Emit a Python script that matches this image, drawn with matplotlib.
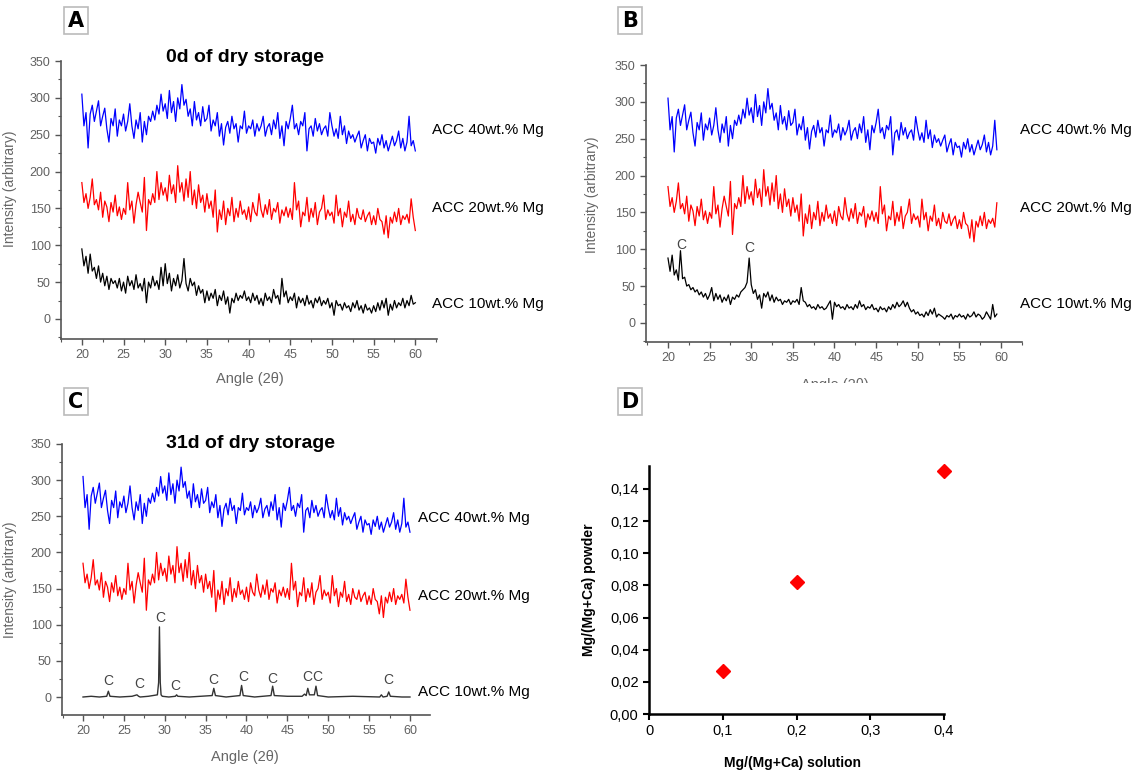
import numpy as np
import matplotlib
matplotlib.use("Agg")
import matplotlib.pyplot as plt
from matplotlib.ticker import MultipleLocator, FixedLocator, FixedFormatter
from matplotlib.patches import Rectangle

plt.rcParams['font.family'] = ['Liberation Sans', 'DejaVu Sans']

# ---- XRD data (0.25 deg steps) ----
angle = np.linspace(20, 60, 161)

acc40 = [305, 262, 280, 232, 278, 290, 268, 282, 296, 262, 275, 286, 258, 240, 272, 262, 285, 248, 270, 262,
         278, 255, 268, 292, 262, 245, 270, 258, 280, 240, 268, 250, 275, 268, 282, 270, 290, 278, 305, 282,
         292, 272, 310, 280, 295, 268, 300, 285, 318, 290, 298, 275, 285, 262, 295, 270, 280, 262, 288, 268,
         272, 290, 255, 270, 262, 280, 248, 265, 236, 260, 268, 252, 275, 258, 265, 240, 262, 258, 282, 252,
         262, 258, 270, 248, 265, 255, 262, 275, 248, 260, 265, 250, 270, 258, 280, 245, 262, 235, 268, 258,
         272, 290, 258, 265, 250, 268, 262, 280, 228, 258, 262, 248, 272, 255, 265, 250, 258, 262, 248, 280,
         262, 248, 258, 245, 275, 250, 262, 238, 255, 245, 250, 240, 248, 255, 232, 242, 250, 228, 245, 238,
         240, 225, 245, 236, 250, 232, 242, 228, 238, 248, 235, 242, 255, 232, 245, 228, 240, 275, 235, 242,
         228]

acc20 = [185, 158, 170, 150, 165, 190, 155, 162, 148, 172, 138, 160, 152, 132, 158, 145, 168, 140, 152, 135,
         150, 142, 185, 148, 160, 130, 155, 172, 158, 145, 192, 120, 162, 155, 170, 158, 200, 162, 185, 168,
         178, 160, 195, 170, 182, 158, 208, 172, 185, 160, 190, 165, 200, 155, 175, 150, 182, 158, 168, 145,
         170, 150, 160, 138, 175, 118, 148, 135, 160, 128, 150, 140, 165, 132, 150, 138, 160, 142, 148, 135,
         152, 132, 158, 145, 140, 170, 148, 138, 155, 142, 162, 135, 150, 145, 158, 130, 148, 140, 152, 138,
         150, 135, 185, 148, 160, 125, 145, 140, 165, 132, 150, 138, 158, 128, 145, 150, 168, 135, 148, 140,
         145, 130, 168, 140, 150, 125, 145, 138, 160, 132, 142, 128, 150, 138, 135, 148, 132, 140, 145, 128,
         140, 128, 150, 135, 132, 115, 140, 110, 138, 130, 145, 132, 150, 128, 140, 135, 142, 130, 163, 138,
         120]

acc10_0d = [95, 72, 85, 62, 88, 65, 70, 55, 72, 50, 62, 45, 58, 40, 55, 48, 52, 42, 55, 38,
            50, 35, 58, 45, 52, 40, 60, 42, 48, 38, 55, 22, 50, 42, 58, 45, 52, 40, 70, 45,
            75, 48, 62, 38, 55, 45, 60, 42, 52, 82, 48, 38, 55, 45, 50, 32, 45, 35, 40, 22,
            38, 25, 35, 28, 40, 18, 32, 25, 38, 20, 30, 8, 28, 22, 35, 25, 32, 28, 38, 25,
            30, 22, 35, 25, 32, 20, 28, 18, 35, 25, 30, 22, 40, 28, 32, 20, 55, 30, 38, 22,
            30, 25, 35, 15, 30, 22, 28, 18, 32, 20, 25, 15, 28, 22, 30, 18, 25, 20, 28, 15,
            22, 5, 25, 18, 20, 12, 22, 15, 18, 10, 22, 15, 25, 12, 18, 8, 20, 12, 15, 8,
            18, 10, 22, 12, 25, 15, 28, 5, 20, 12, 25, 15, 22, 18, 28, 15, 25, 18, 32, 20,
            22]

acc10_b = [88, 70, 92, 65, 72, 58, 98, 60, 62, 50, 52, 45, 48, 42, 45, 38, 42, 35, 40, 32,
           38, 48, 30, 40, 32, 38, 28, 35, 30, 38, 25, 35, 32, 38, 35, 42, 45, 48, 55, 88,
           52, 40, 45, 32, 38, 20, 40, 35, 42, 30, 38, 28, 35, 30, 32, 25, 30, 28, 32, 25,
           30, 28, 32, 25, 48, 30, 28, 22, 25, 20, 22, 18, 25, 20, 22, 18, 20, 25, 30, 5,
           28, 22, 25, 20, 22, 18, 25, 20, 22, 18, 25, 20, 30, 22, 25, 18, 22, 20, 25, 18,
           20, 15, 22, 18, 20, 15, 22, 18, 25, 20, 28, 22, 25, 30, 22, 28, 20, 15, 18, 12,
           15, 10, 12, 8, 15, 10, 18, 12, 20, 8, 12, 10, 8, 5, 10, 8, 12, 5, 10, 8,
           12, 8, 10, 5, 12, 8, 10, 15, 8, 12, 10, 5, 8, 15, 10, 5, 25, 8, 12, 5,
           6]

# crystalline sample after 31 days
c_angle = [20, 21, 22, 22.9, 23.1, 23.3, 24.5, 26, 26.6, 26.8, 27, 28, 29.1, 29.25, 29.35, 29.45, 29.55,
           29.7, 30.5, 31.3, 31.45, 31.6, 33, 35.8, 36.0, 36.2, 37.5, 39.2, 39.4, 39.6, 41, 43.0, 43.2,
           43.4, 45, 46.8, 47.1, 47.3, 47.5, 47.7, 48.3, 48.5, 48.7, 50, 53, 56.3, 56.5, 56.7, 57.2,
           57.4, 57.6, 59, 60]
c_value = [0, 1, 0, 1, 8, 1, 0, 1, 3, 1, 0, 1, 3, 20, 97, 20, 3,
           1, 0, 1, 3, 1, 0, 2, 12, 2, 0, 2, 16, 2, 0, 2, 15,
           2, 1, 1, 4, 2, 12, 3, 3, 15, 2, 0, 1, 0, 3, 0, 1,
           7, 1, 0, 0]

# calcite peak labels (angle, height)
c_marks_c = [(23.1, 22), (26.85, 18), (29.5, 109), (31.3, 15), (35.95, 23), (39.55, 27),
             (43.2, 25), (47.4, 28), (48.6, 28), (57.35, 23)]
c_marks_b = [(21.55, 106), (29.75, 102)]

samples = ["ACC 40wt.% Mg", "ACC 20wt.% Mg", "ACC 10wt.% Mg"]

# ---- panel D data ----
mg_solution = [0.1, 0.2, 0.4]
mg_powder = [0.027, 0.082, 0.151]

W, H = 1138, 774
fig = plt.figure(figsize=(W / 100, H / 100), dpi=100)


def px_axes(l, t, r, b):
    return fig.add_axes([l / W, 1 - b / H, (r - l) / W, (b - t) / H])


def ftext(x, y, s, **kw):
    fig.text(x / W, 1 - y / H, s, **kw)


def xrd_style(ax, xlim, ylim, ylab_xy, xlab_xy):
    ax.set_xlim(*xlim)
    ax.set_ylim(*ylim)
    for s in ['top', 'right']:
        ax.spines[s].set_visible(False)
    for s in ['left', 'bottom']:
        ax.spines[s].set_color('#555555')
        ax.spines[s].set_linewidth(1.2)
    ax.xaxis.set_major_locator(MultipleLocator(5))
    ax.xaxis.set_minor_locator(MultipleLocator(2.5))
    ax.yaxis.set_major_locator(FixedLocator(range(0, 351, 50)))
    ax.yaxis.set_minor_locator(FixedLocator(range(-25, 351, 25)))
    ax.tick_params(which='both', direction='out', colors='#555555', labelsize=9,
                   labelcolor='#606060')
    ax.tick_params(which='major', length=4, width=1)
    ax.tick_params(which='minor', length=2.5, width=0.8)
    ax.set_ylabel('Intensity (arbitrary)', fontsize=10, color='#666666')
    ax.set_xlabel('Angle (2θ)', fontsize=10.5, color='#666666')
    ax.yaxis.set_label_coords(*ylab_xy)
    ax.xaxis.set_label_coords(*xlab_xy)


def panel_box(x0, y0, letter):
    fig.add_artist(Rectangle((x0 / W, 1 - (y0 + 27) / H), 24 / W, 27 / H,
                             transform=fig.transFigure, facecolor='white',
                             edgecolor='#bbbbbb', linewidth=1.2))
    ftext(x0 + 12, y0 + 14, letter, ha='center', va='center', fontsize=15,
          fontweight='heavy', family=['DejaVu Sans'])


lw = 0.9

# ---- A ----
axA = px_axes(61, 61, 437, 339)
axA.plot(angle, acc40, color='#0000ff', lw=lw)
axA.plot(angle, acc20, color='#ff0000', lw=lw)
axA.plot(angle, acc10_0d, color='black', lw=lw)
xrd_style(axA, (17.5, 62.6), (-27.2, 350), (-0.118, 0.54), (0.503, -0.12))
ftext(245, 57, '0d of dry storage', ha='center', va='center', fontsize=14, fontweight='bold')
for lab, y in zip(samples, [130, 208, 304]):
    ftext(432, y, lab, ha='left', va='center', fontsize=11)

# ---- B ----
axB = px_axes(646, 65, 1022, 342)
mb = angle <= 59.5
axB.plot(angle[mb], np.array(acc40)[mb], color='#0000ff', lw=lw)
axB.plot(angle[mb], np.array(acc20)[mb], color='#ff0000', lw=lw)
axB.plot(angle[mb], np.array(acc10_b)[mb], color='black', lw=lw)
xrd_style(axB, (17.36, 62.52), (-25.9, 350), (-0.125, 0.53), (0.503, -0.13))
for a, v in c_marks_b:
    axB.text(a, v, 'C', ha='center', va='center', fontsize=10, color='#444444')
for lab, y in zip(samples, [130, 208, 304]):
    ftext(1020, y, lab, ha='left', va='center', fontsize=11)
# the x label of B is cut off in the original figure
fig.add_artist(Rectangle((760 / W, 1 - 394 / H), 160 / W, 11 / H, transform=fig.transFigure,
                         facecolor='white', edgecolor='none', zorder=10))

# ---- C ----
axC = px_axes(62, 444, 430, 715)
axC.plot(angle, acc40, color='#0000ff', lw=lw)
axC.plot(angle, acc20, color='#ff0000', lw=lw)
axC.plot(c_angle, c_value, color='#333333', lw=1.0)
xrd_style(axC, (17.43, 62.45), (-24.9, 350), (-0.122, 0.5), (0.497, -0.13))
for a, v in c_marks_c:
    axC.text(a, v, 'C', ha='center', va='center', fontsize=10, color='#444444')
ftext(250, 444, '31d of dry storage', ha='center', va='center', fontsize=14, fontweight='bold')
for lab, y in zip(samples, [518, 596, 692]):
    ftext(418, y, lab, ha='left', va='center', fontsize=11)

# ---- D ----
axD = px_axes(649, 466, 944, 714)
axD.plot(mg_solution, mg_powder, linestyle='none', marker='D', markersize=7.5,
         color='#ff0000', clip_on=False)
axD.set_xlim(0, 0.4)
axD.set_ylim(0, 0.1543)
for s in ['top', 'right']:
    axD.spines[s].set_visible(False)
for s in ['left', 'bottom']:
    axD.spines[s].set_linewidth(1.8)
xt = [0, 0.1, 0.2, 0.3, 0.4]
yt = [0, 0.02, 0.04, 0.06, 0.08, 0.10, 0.12, 0.14]
axD.xaxis.set_major_locator(FixedLocator(xt))
axD.xaxis.set_major_formatter(FixedFormatter(['0', '0,1', '0,2', '0,3', '0,4']))
axD.yaxis.set_major_locator(FixedLocator(yt))
axD.yaxis.set_major_formatter(FixedFormatter([('%.2f' % v).replace('.', ',') for v in yt]))
axD.tick_params(direction='out', length=4, width=1.5, labelsize=10.5, colors='black')
axD.set_xlabel('Mg/(Mg+Ca) solution', fontsize=10, fontweight='bold')
axD.set_ylabel('Mg/(Mg+Ca) powder', fontsize=10, fontweight='bold')
axD.xaxis.set_label_coords(0.488, -0.17)
axD.yaxis.set_label_coords(-0.18, 0.5)

panel_box(64, 7, 'A')
panel_box(618, 7, 'B')
panel_box(64, 388, 'C')
panel_box(618, 388, 'D')

fig.savefig('out.png', dpi=100)
